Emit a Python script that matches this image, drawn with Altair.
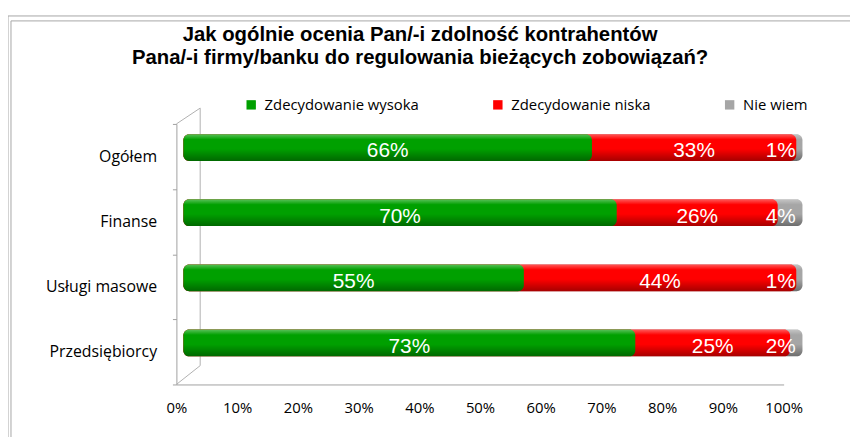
import altair as alt
import pandas as pd

categories = ["Ogółem", "Finanse", "Usługi masowe", "Przedsiębiorcy"]
series = ["Zdecydowanie wysoka", "Zdecydowanie niska", "Nie wiem"]
colors = ["#00a000", "#ff0000", "#a6a6a6"]
high = [66, 70, 55, 73]
low = [33, 26, 44, 25]
dunno = [1, 4, 1, 2]
tick_values = [0, 10, 20, 30, 40, 50, 60, 70, 80, 90, 100]
title_lines = ["Jak ogólnie ocenia Pan/-i zdolność kontrahentów",
               "Pana/-i firmy/banku do regulowania bieżących zobowiązań?"]

rows = []
for i, c in enumerate(categories):
    start = 0
    for j, (s, vals) in enumerate(zip(series, [high, low, dunno])):
        v = vals[i]
        mid = start + v / 2
        rows.append({"cat": c, "series": s, "value": v, "order": j,
                     "draw": 2 - j,
                     "start": start, "end": start + v,
                     "labpos": min(mid, 96.5), "label": f"{v}%"})
        start += v
df = pd.DataFrame(rows)
ticks_df = pd.DataFrame({"t": tick_values})
one = pd.DataFrame({"a": [0]})

W, H = 625, 263
xs = alt.Scale(domain=[0, 100], nice=False, zero=True)
ysort = categories
R = 6

yenc = alt.Y("cat:N", sort=ysort, title=None,
             axis=alt.Axis(labelFont="Open Sans", labelFontSize=16, labelColor="#000000",
                           labelPadding=16, tickBand="extent", tickSize=4, tickColor="#a0a0a0",
                           domainColor="#a0a0a0", offset=7, labelLimit=300),
             scale=alt.Scale(paddingInner=0, paddingOuter=0))

# each segment drawn from 0 to its cumulative end, largest first, so the
# rounded ends give the cylinder look of the original
bars = alt.Chart(df).mark_bar(size=27, yOffset=-9, cornerRadius=R).encode(
    x=alt.X("end:Q", scale=xs, axis=None, stack=None),
    y=yenc,
    color=alt.Color("series:N", scale=alt.Scale(domain=series, range=colors),
                    legend=alt.Legend(title=None, orient="none", legendX=61, legendY=-27,
                                      direction="horizontal", symbolType="square",
                                      symbolSize=90, symbolStrokeWidth=0,
                                      labelFont="Open Sans", labelFontSize=15,
                                      labelColor="#000000", columnPadding=72,
                                      labelOffset=6, padding=0, labelLimit=400)),
    order="draw:Q",
)

shade = alt.Gradient(
    gradient="linear", x1=0, x2=0, y1=0, y2=1,
    stops=[alt.GradientStop(color="rgba(255,255,255,0.35)", offset=0),
           alt.GradientStop(color="rgba(255,255,255,0.0)", offset=0.2),
           alt.GradientStop(color="rgba(0,0,0,0.0)", offset=0.55),
           alt.GradientStop(color="rgba(0,0,0,0.35)", offset=1)])

overlay = alt.Chart(df).mark_bar(size=27, yOffset=-9, color=shade, cornerRadius=R).encode(
    x=alt.X("sum(value):Q", scale=xs, axis=None),
    y=alt.Y("cat:N", sort=ysort),
)

labels = alt.Chart(df).mark_text(font="Liberation Sans", fontSize=21, color="white",
                                 baseline="middle", yOffset=-5).encode(
    x=alt.X("labpos:Q", scale=xs, axis=None),
    y=alt.Y("cat:N", sort=ysort),
    text="label:N",
)

axis_layer = alt.Chart(ticks_df).mark_point(opacity=0).encode(
    x=alt.X("t:Q", scale=alt.Scale(domain=[0, 100], range=[-7, 606], nice=False),
            title=None,
            axis=alt.Axis(values=tick_values, labelExpr="datum.value + '%'", ticks=False,
                          grid=False, domainColor="#a0a0a0", labelFont="Open Sans",
                          labelFontSize=15, labelColor="#000000", labelPadding=16,
                          orient="bottom", labelFlush=False)),
)

def line(x, y, x2=None, y2=None, color="#a6a6a6", width=1):
    enc = {"x": alt.value(x), "y": alt.value(y)}
    if x2 is not None:
        enc["x2"] = alt.value(x2)
    if y2 is not None:
        enc["y2"] = alt.value(y2)
    return alt.Chart(one).mark_rule(color=color, strokeWidth=width).encode(**enc)

deco = [
    line(17, -16, y2=244, color="#b0b0b0"),
    line(-7, 0, x2=17, y2=-16, color="#b0b0b0"),
    line(-7, 263, x2=17, y2=244, color="#b0b0b0"),
    line(-177, -109, x2=673, color="#a6a6a6"),
    line(-174, -104, x2=673, color="#a6a6a6"),
    line(-177, -109, y2=320, color="#a6a6a6"),
    line(-174, -104, y2=320, color="#a6a6a6"),
]

title = alt.Chart(one).mark_text(
    text=title_lines, font="Liberation Sans", fontSize=20.5, fontWeight="bold",
    color="#000000", align="center", baseline="top", lineHeight=23,
).encode(x=alt.value(239), y=alt.value(-100))

inner = alt.layer(*deco, title, bars, overlay, labels)

chart = alt.layer(inner, axis_layer).resolve_scale(x="independent").properties(
    width=W, height=H,
    padding={"left": 177, "top": 115, "right": 48, "bottom": 51},
    autosize=alt.AutoSizeParams(type="none"),
).configure_view(stroke=None)

chart.save("out.html", embed_options={"renderer": "svg", "actions": False})
